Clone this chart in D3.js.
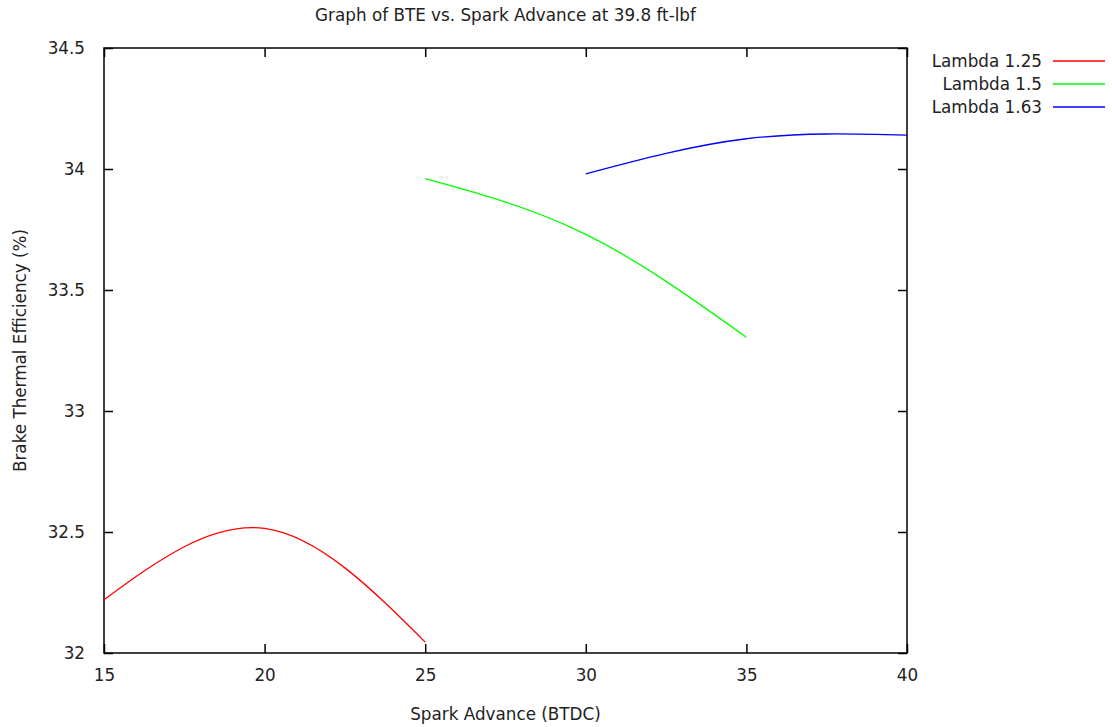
<!DOCTYPE html>
<html>
<head>
<meta charset="utf-8">
<script src="https://cdn.jsdelivr.net/npm/d3@7"></script>
<style>
  body { margin: 0; background: #fff; }
  svg text { font-family: "DejaVu Sans", Verdana, sans-serif; fill: #222; }
</style>
</head>
<body>
<svg id="chart" width="1112" height="727"></svg>
<script>
// Spark advance (deg BTDC) and BTE (%) per lambda
const seriesNames = ["Lambda 1.25", "Lambda 1.5", "Lambda 1.63"];
const seriesColors = ["#ff0000", "#00ff00", "#0000ff"];
const advance125 = [15, 20, 25];
const bte125 = [32.22, 32.515, 32.045];
const advance150 = [25, 30, 35];
const bte150 = [33.96, 33.73, 33.305];
const advance163 = [30, 35, 40];
const bte163 = [33.98, 34.125, 34.14];
const xTicks = [15, 20, 25, 30, 35, 40];
const yTicks = [32, 32.5, 33, 33.5, 34, 34.5];

const MARGIN = {left: 104, right: 205, top: 48, bottom: 74};
const W = 1112, H = 727;
const FS = 16.8;

const svg = d3.select('#chart');

const x = d3.scaleLinear().domain([15, 40]).range([MARGIN.left, W - MARGIN.right]);
const y = d3.scaleLinear().domain([32, 34.5]).range([H - MARGIN.bottom, MARGIN.top]);

//frame
svg.append('rect')
    .attr('x', x(15)).attr('y', y(34.5))
    .attr('width', x(40) - x(15)).attr('height', y(32) - y(34.5))
    .attr('fill', 'none').attr('stroke', '#000').attr('stroke-width', 1.5);

// inward ticks on all four sides, labels only bottom/left
const tickLen = 9;
const axisB = d3.axisBottom(x).tickValues(xTicks).tickSize(-tickLen).tickPadding(16).tickFormat(d3.format('d'));
const axisT = d3.axisTop(x).tickValues(xTicks).tickSize(-tickLen).tickFormat('');
const axisL = d3.axisLeft(y).tickValues(yTicks).tickSize(-tickLen).tickPadding(19).tickFormat(d => d);
const axisR = d3.axisRight(y).tickValues(yTicks).tickSize(-tickLen).tickFormat('');

function styleAxis(g) {
    g.select('.domain').remove();
    g.selectAll('line').attr('stroke', '#000').attr('stroke-width', 1.5);
    g.selectAll('text').attr('font-size', FS).attr('fill', '#222')
        .style('font-family', '"DejaVu Sans", Verdana, sans-serif');
}

svg.append('g').attr('transform', `translate(0,${y(32)})`).call(axisB).call(styleAxis);
svg.append('g').attr('transform', `translate(0,${y(34.5)})`).call(axisT).call(styleAxis);
svg.append('g').attr('transform', `translate(${x(15)},0)`).call(axisL).call(styleAxis);
svg.append('g').attr('transform', `translate(${x(40)},0)`).call(axisR).call(styleAxis);

// data lines
const series = [
    {name: seriesNames[0], color: seriesColors[0], pts: advance125.map((a, i) => [a, bte125[i]])},
    {name: seriesNames[1], color: seriesColors[1], pts: advance150.map((a, i) => [a, bte150[i]])},
    {name: seriesNames[2], color: seriesColors[2], pts: advance163.map((a, i) => [a, bte163[i]])}
];

const line = d3.line()
    .x(d => x(d[0]))
    .y(d => y(d[1]))
    .curve(d3.curveNatural);

svg.append('g').selectAll('path')
    .data(series)
    .join('path')
    .attr('d', d => line(d.pts))
    .attr('fill', 'none')
    .attr('stroke', d => d.color)
    .attr('stroke-width', 1.3);

// legend
const legend = svg.append('g');
series.forEach((s, i) => {
    const ly = 61 + i * 23;
    legend.append('text')
        .attr('x', 1042).attr('y', ly)
        .attr('dy', '0.35em')
        .attr('text-anchor', 'end')
        .attr('font-size', FS)
        .text(s.name);
    legend.append('line')
        .attr('x1', 1053).attr('x2', 1105)
        .attr('y1', ly).attr('y2', ly)
        .attr('stroke', s.color).attr('stroke-width', 1.3);
});

// titles
svg.append('text')
    .attr('x', (x(15) + x(40)) / 2).attr('y', 21)
    .attr('text-anchor', 'middle').attr('font-size', FS)
    .text('Graph of BTE vs. Spark Advance at 39.8 ft-lbf');

svg.append('text')
    .attr('x', (x(15) + x(40)) / 2).attr('y', 720)
    .attr('text-anchor', 'middle').attr('font-size', FS)
    .text('Spark Advance (BTDC)');

svg.append('text')
    .attr('transform', `translate(26,${(y(32) + y(34.5)) / 2}) rotate(-90)`)
    .attr('text-anchor', 'middle').attr('font-size', FS)
    .text('Brake Thermal Efficiency (%)');
</script>
</body>
</html>
